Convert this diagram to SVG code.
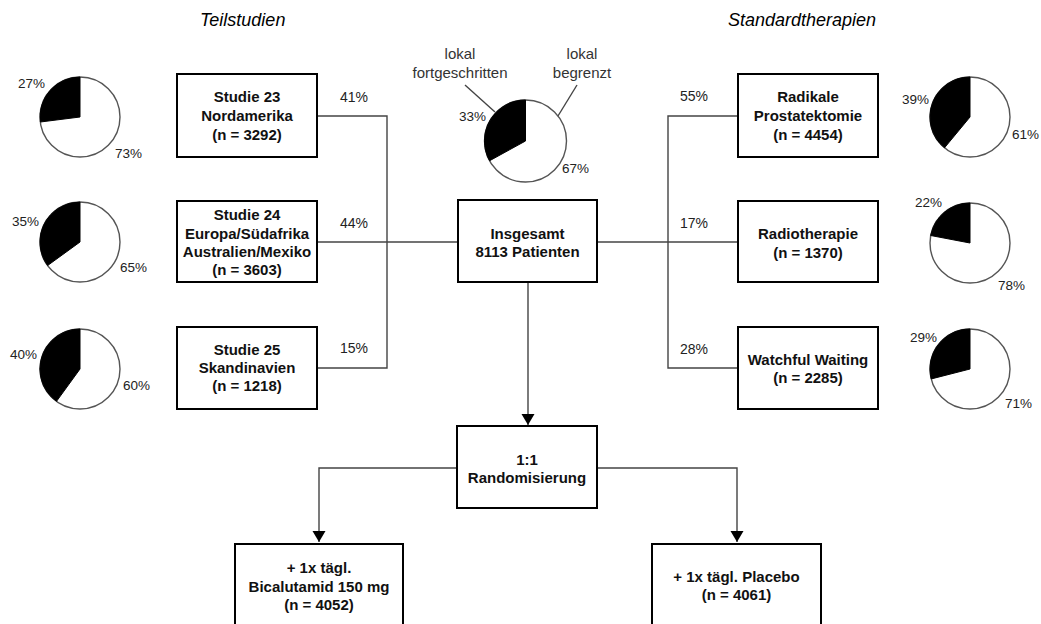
<svg xmlns="http://www.w3.org/2000/svg" width="1041" height="624" viewBox="0 0 1041 624">
<style>
.box{fill:#fff;stroke:#000;stroke-width:2}
.bt{font-family:"Liberation Sans",Arial,sans-serif;font-size:15px;font-weight:bold;text-anchor:middle;fill:#111}
.pct{font-family:"Liberation Sans",Arial,sans-serif;font-size:14px;fill:#222}
.pl{font-family:"Liberation Sans",Arial,sans-serif;font-size:13.5px;fill:#222}
.hd{font-family:"Liberation Sans",Arial,sans-serif;font-size:18px;font-style:italic;fill:#000}
.lbl{font-family:"Liberation Sans",Arial,sans-serif;font-size:15px;fill:#333;text-anchor:middle}
.ln{fill:none;stroke:#444;stroke-width:1.4}
.pw{fill:#fff;stroke:#555;stroke-width:1.4}
.pb{fill:#000;stroke:#000;stroke-width:1}
</style>
<defs>
<marker id="ah" markerWidth="14" markerHeight="14" refX="11" refY="6.5" orient="auto" markerUnits="userSpaceOnUse">
<path d="M0,0 L11,6.5 L0,13 Z" fill="#000"/>
</marker>
</defs>
<rect width="1041" height="624" fill="#fff"/>

<text class="hd" x="200" y="26">Teilstudien</text>
<text class="hd" x="728" y="26">Standardtherapien</text>

<g id="connectors">
<path class="ln" d="M317,116 H387 V368 H317"/>
<path class="ln" d="M317,242 H458"/>
<path class="ln" d="M738,116 H668 V368 H738"/>
<path class="ln" d="M597,242 H738"/>
<path class="ln" d="M528,282 V425" marker-end="url(#ah)"/>
<path class="ln" d="M457,468 H319 V542" marker-end="url(#ah)"/>
<path class="ln" d="M597,468 H737 V542" marker-end="url(#ah)"/>
<path class="ln" d="M465,85 L495,112"/>
<path class="ln" d="M577,85 L550,129"/>
</g>

<g id="pct-labels">
<text class="pct" x="340" y="102">41%</text>
<text class="pct" x="340" y="228">44%</text>
<text class="pct" x="340" y="353">15%</text>
<text class="pct" x="680" y="101">55%</text>
<text class="pct" x="680" y="228">17%</text>
<text class="pct" x="680" y="354">28%</text>
</g>

<g id="pie-center">
<circle class="pw" cx="525.5" cy="141" r="41"/>
<path class="pb" d="M525.5,141 L525.5,100 A41,41 0 0 0 489.57,160.75 Z"/>
<text class="pl" x="459" y="121">33%</text>
<text class="pl" x="562" y="173">67%</text>
<text class="lbl" x="460" y="59">lokal</text>
<text class="lbl" x="460" y="78">fortgeschritten</text>
<text class="lbl" x="582" y="59">lokal</text>
<text class="lbl" x="582" y="78">begrenzt</text>
</g>

<g id="pie-l1">
<circle class="pw" cx="80" cy="117" r="40"/>
<path class="pb" d="M80,117 L80,77 A40,40 0 0 0 40.32,122.01 Z"/>
<text class="pl" x="18" y="88">27%</text>
<text class="pl" x="115" y="158">73%</text>
</g>
<g id="pie-l2">
<circle class="pw" cx="80" cy="242" r="40"/>
<path class="pb" d="M80,242 L80,202 A40,40 0 0 0 47.64,265.51 Z"/>
<text class="pl" x="12" y="226">35%</text>
<text class="pl" x="120" y="272">65%</text>
</g>
<g id="pie-l3">
<circle class="pw" cx="80" cy="369" r="40"/>
<path class="pb" d="M80,369 L80,329 A40,40 0 0 0 56.49,401.36 Z"/>
<text class="pl" x="10" y="359">40%</text>
<text class="pl" x="123" y="390">60%</text>
</g>
<g id="pie-r1">
<circle class="pw" cx="970" cy="117" r="40"/>
<path class="pb" d="M970,117 L970,77 A40,40 0 0 0 944.5,147.82 Z"/>
<text class="pl" x="902" y="104">39%</text>
<text class="pl" x="1012" y="139">61%</text>
</g>
<g id="pie-r2">
<circle class="pw" cx="970" cy="243" r="40"/>
<path class="pb" d="M970,243 L970,203 A40,40 0 0 0 930.71,235.5 Z"/>
<text class="pl" x="915" y="207">22%</text>
<text class="pl" x="998" y="290">78%</text>
</g>
<g id="pie-r3">
<circle class="pw" cx="970" cy="369" r="40"/>
<path class="pb" d="M970,369 L970,329 A40,40 0 0 0 931.26,378.95 Z"/>
<text class="pl" x="910" y="342">29%</text>
<text class="pl" x="1005" y="408">71%</text>
</g>

<g id="studie23">
<rect class="box" x="177" y="74" width="140" height="83"/>
<text class="bt" x="247" y="102">Studie 23</text>
<text class="bt" x="247" y="121">Nordamerika</text>
<text class="bt" x="247" y="140">(n = 3292)</text>
</g>
<g id="studie24">
<rect class="box" x="177" y="201" width="140" height="81"/>
<text class="bt" x="247" y="220">Studie 24</text>
<text class="bt" x="247" y="239">Europa/Südafrika</text>
<text class="bt" x="247" y="257">Australien/Mexiko</text>
<text class="bt" x="247" y="275">(n = 3603)</text>
</g>
<g id="studie25">
<rect class="box" x="177" y="327" width="140" height="82"/>
<text class="bt" x="247" y="355">Studie 25</text>
<text class="bt" x="247" y="373">Skandinavien</text>
<text class="bt" x="247" y="391">(n = 1218)</text>
</g>

<g id="insgesamt">
<rect class="box" x="458" y="200" width="139" height="82"/>
<text class="bt" x="527.5" y="239">Insgesamt</text>
<text class="bt" x="527.5" y="257">8113 Patienten</text>
</g>

<g id="prostatektomie">
<rect class="box" x="738" y="74" width="140" height="83"/>
<text class="bt" x="808" y="102">Radikale</text>
<text class="bt" x="808" y="121">Prostatektomie</text>
<text class="bt" x="808" y="140">(n = 4454)</text>
</g>
<g id="radiotherapie">
<rect class="box" x="738" y="201" width="140" height="81"/>
<text class="bt" x="808" y="239">Radiotherapie</text>
<text class="bt" x="808" y="258">(n = 1370)</text>
</g>
<g id="watchful">
<rect class="box" x="738" y="327" width="140" height="82"/>
<text class="bt" x="808" y="365">Watchful Waiting</text>
<text class="bt" x="808" y="383">(n = 2285)</text>
</g>

<g id="randomisierung">
<rect class="box" x="457" y="426" width="140" height="82"/>
<text class="bt" x="527" y="465">1:1</text>
<text class="bt" x="527" y="483">Randomisierung</text>
</g>

<g id="bicalutamid">
<rect class="box" x="235" y="544" width="168" height="90"/>
<text class="bt" x="319" y="573">+ 1x tägl.</text>
<text class="bt" x="319" y="592">Bicalutamid 150 mg</text>
<text class="bt" x="319" y="610">(n = 4052)</text>
</g>
<g id="placebo">
<rect class="box" x="652" y="544" width="169" height="90"/>
<text class="bt" x="736.5" y="582">+ 1x tägl. Placebo</text>
<text class="bt" x="736.5" y="600">(n = 4061)</text>
</g>
</svg>
